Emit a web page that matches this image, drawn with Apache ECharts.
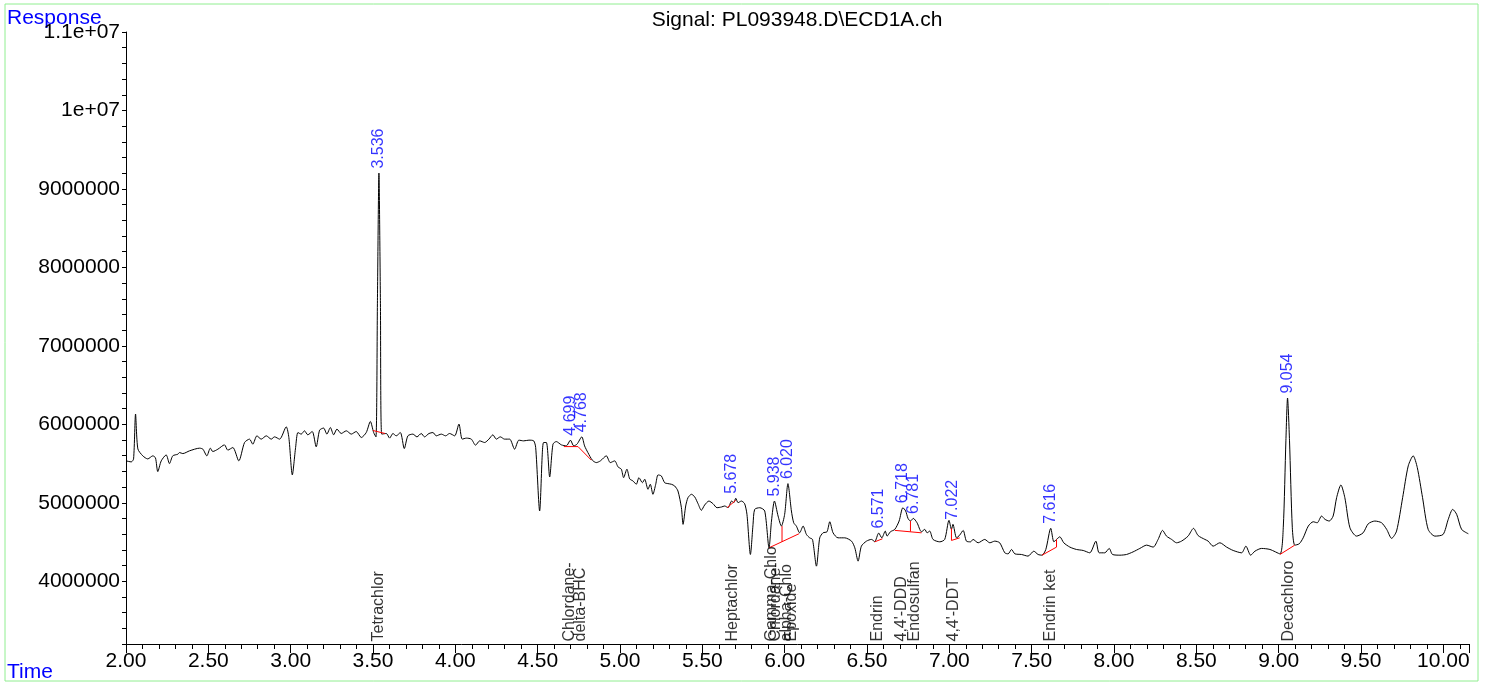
<!DOCTYPE html>
<html>
<head>
<meta charset="utf-8">
<script src="https://cdn.jsdelivr.net/npm/echarts@6/dist/echarts.min.js"></script>
<style>
html,body{margin:0;padding:0;background:#fff;}
#chart{width:1486px;height:683px;}
</style>
</head>
<body>
<div id="chart"></div>
<script>
// Retention time (min)
const rt = [
2.001,2.032,2.046,2.058,2.072,2.102,2.132,2.163,2.179,2.193,2.214,2.244,2.264,2.284,2.315,2.325,2.345,2.386,2.447,2.467,
2.491,2.512,2.527,2.558,2.598,2.618,2.649,2.685,2.720,2.750,2.770,2.795,2.821,2.852,2.882,2.902,2.933,2.973,2.989,3.010,
3.030,3.044,3.064,3.084,3.104,3.131,3.155,3.176,3.200,3.220,3.241,3.261,3.281,3.307,3.338,3.368,3.398,3.429,3.459,3.484,
3.504,3.518,3.527,3.536,3.545,3.553,3.581,3.601,3.621,3.641,3.666,3.690,3.712,3.742,3.767,3.793,3.813,3.840,3.864,3.884,
3.915,3.941,3.965,3.996,4.022,4.042,4.067,4.097,4.123,4.148,4.178,4.204,4.228,4.249,4.273,4.299,4.330,4.360,4.386,4.415,
4.447,4.476,4.488,4.512,4.528,4.536,4.553,4.573,4.593,4.613,4.644,4.674,4.699,4.719,4.739,4.768,4.785,4.805,4.832,4.856,
4.881,4.917,4.941,4.968,4.988,5.008,5.022,5.042,5.059,5.079,5.099,5.115,5.136,5.150,5.170,5.184,5.200,5.217,5.231,5.251,
5.271,5.291,5.312,5.332,5.352,5.373,5.383,5.399,5.413,5.434,5.454,5.474,5.494,5.514,5.540,5.565,5.589,5.616,5.636,5.656,
5.678,5.691,5.703,5.717,5.737,5.757,5.771,5.792,5.808,5.818,5.849,5.879,5.905,5.920,5.938,5.960,5.980,6.000,6.020,6.041,
6.055,6.071,6.091,6.112,6.132,6.152,6.169,6.193,6.213,6.233,6.257,6.274,6.294,6.324,6.365,6.406,6.426,6.446,6.466,6.497,
6.527,6.547,6.571,6.590,6.611,6.622,6.642,6.669,6.695,6.718,6.735,6.749,6.764,6.781,6.804,6.831,6.851,6.865,6.881,6.901,
6.942,6.972,6.998,7.013,7.022,7.044,7.063,7.084,7.104,7.129,7.144,7.175,7.215,7.246,7.276,7.306,7.337,7.357,7.378,7.398,
7.438,7.478,7.513,7.539,7.563,7.586,7.616,7.635,7.651,7.671,7.695,7.732,7.772,7.813,7.853,7.890,7.910,7.944,7.971,7.991,
8.036,8.076,8.116,8.157,8.198,8.238,8.268,8.295,8.319,8.350,8.380,8.410,8.450,8.483,8.511,8.552,8.572,8.602,8.643,8.684,
8.724,8.775,8.801,8.830,8.856,8.896,8.947,9.008,9.028,9.044,9.054,9.066,9.083,9.098,9.125,9.149,9.180,9.210,9.234,9.261,
9.281,9.307,9.331,9.352,9.378,9.402,9.433,9.473,9.513,9.544,9.584,9.625,9.656,9.686,9.716,9.753,9.787,9.817,9.842,9.874,
9.908,9.949,9.999,10.030,10.057,10.081,10.111,10.152
];
// Detector response
const resp = [
5534000,5521000,5559000,6131000,5687000,5598000,5559000,5598000,5572000,5397000,5534000,5610000,5499000,5598000,5619000,5640000,5627000,5662000,5696000,5683000,
5598000,5696000,5653000,5683000,5738000,5671000,5704000,5534000,5768000,5811000,5747000,5853000,5811000,5853000,5811000,5840000,5811000,5968000,5832000,5355000,
5704000,5895000,5875000,5917000,5866000,5908000,5713000,5926000,5952000,5875000,5959000,5866000,5939000,5883000,5917000,5875000,5908000,5832000,5895000,6036000,
5895000,5840000,7579000,9202000,7579000,5875000,5883000,5824000,5883000,5853000,5895000,5691000,5853000,5875000,5840000,5883000,5840000,5883000,5895000,5853000,
5875000,5853000,5883000,5853000,6003000,5811000,5824000,5811000,5734000,5789000,5768000,5811000,5866000,5811000,5840000,5811000,5811000,5683000,5798000,5789000,
5798000,5789000,5704000,4895000,5619000,5768000,5768000,5329000,5747000,5780000,5738000,5725000,5798000,5725000,5747000,5840000,5725000,5640000,5543000,5512000,
5534000,5598000,5512000,5534000,5457000,5428000,5320000,5428000,5304000,5278000,5236000,5320000,5256000,5300000,5172000,5236000,5108000,5236000,5355000,5342000,
5256000,5244000,5236000,5214000,5150000,4937000,4725000,4959000,5065000,5108000,5074000,4988000,4904000,4971000,5022000,4988000,4937000,4946000,4959000,4937000,
5022000,5001000,5057000,5001000,5022000,4988000,4853000,4341000,4725000,4916000,4937000,4895000,4426000,4767000,5022000,4831000,4703000,4853000,5244000,4895000,
4745000,4703000,4617000,4703000,4597000,4553000,4533000,4192000,4553000,4617000,4630000,4758000,4617000,4553000,4553000,4511000,4426000,4256000,4447000,4511000,
4533000,4505000,4614000,4553000,4639000,4575000,4630000,4661000,4767000,4937000,4895000,4801000,4767000,4801000,4745000,4630000,4661000,4617000,4639000,4533000,
4502000,4533000,4776000,4661000,4725000,4553000,4588000,4648000,4511000,4502000,4533000,4490000,4533000,4490000,4511000,4490000,4362000,4349000,4405000,4349000,
4341000,4320000,4383000,4341000,4332000,4405000,4674000,4502000,4533000,4566000,4490000,4435000,4405000,4392000,4362000,4511000,4362000,4362000,4418000,4341000,
4332000,4341000,4374000,4418000,4460000,4435000,4533000,4648000,4575000,4533000,4490000,4511000,4575000,4674000,4582000,4533000,4511000,4447000,4490000,4435000,
4392000,4362000,4447000,4332000,4383000,4418000,4405000,4349000,4681000,5789000,6335000,5789000,4681000,4460000,4477000,4553000,4703000,4758000,4745000,4831000,
4789000,4767000,4831000,5065000,5227000,5065000,4681000,4575000,4617000,4732000,4767000,4745000,4661000,4546000,4639000,5065000,5470000,5598000,5448000,5065000,
4661000,4575000,4597000,4789000,4916000,4853000,4661000,4605000
];
// Integrated peaks (apex retention time and response)
const peakTimes = [3.536,4.699,4.768,5.678,5.938,6.020,6.571,6.718,6.781,7.022,7.616,9.054];
const peakResp  = [9202000,5798000,5840000,5057000,5022000,5244000,4614000,4937000,4801000,4725000,4674000,6335000];
const peakLabels = ['3.536','4.699','4.768','5.678','5.938','6.020','6.571','6.718','6.781','7.022','7.616','9.054'];
// Compound names at expected retention times
const compoundTimes = [3.536,4.695,4.762,5.685,5.920,5.946,6.014,6.041,6.567,6.709,6.790,7.023,7.614,9.058];
const compoundNames = ['Tetrachlor','Chlordane-','delta-BHC','Heptachlor','Gamma-Chlo','Chlordane-','alpha-Chlo','Epoxide','Endrin',"4,4'-DDD",'Endosulfan',"4,4'-DDT",'Endrin ket','Decachloro'];
// Integration baselines and drop lines
const baselines = [
  [[3.500,5921000],[3.573,5883000]],
  [[4.659,5716000],[4.745,5716000],[4.826,5543000]],
  [[5.650,4937000],[5.703,5031000]],
  [[5.905,4426000],[6.087,4605000]],
  [[5.984,4502000],[5.984,4703000]],
  [[6.547,4502000],[6.594,4541000]],
  [[6.669,4648000],[6.831,4617000]],
  [[6.764,4633000],[6.764,4767000]],
  [[7.013,4520000],[7.063,4553000]],
  [[7.013,4520000],[7.013,4674000]],
  [[7.563,4332000],[7.651,4435000]],
  [[7.651,4435000],[7.651,4533000]],
  [[9.008,4341000],[9.098,4460000]]
];
const xMin = 2.0, xMax = 10.156, yMin = 3200000, yMax = 11000000;

const FONT = '"Liberation Sans", Arial, sans-serif';
const chart = echarts.init(document.getElementById('chart'), null, {renderer:'canvas'});

const series = [{
  type:'line',
  data: rt.map((t,i)=>[t,resp[i]]),
  showSymbol:false,
  smooth:0.25,
  lineStyle:{color:'#000',width:1},
  z:3,
  silent:true
}];
baselines.forEach(seg=>{
  series.push({type:'line',data:seg,showSymbol:false,lineStyle:{color:'#ff0000',width:1},z:4,silent:true});
});
series.push({
  type:'scatter',
  data: peakTimes.map((t,i)=>({value:[t,peakResp[i]], name:peakLabels[i]})),
  symbolSize:1,
  itemStyle:{color:'rgba(0,0,0,0)'},
  label:{show:true,formatter:p=>p.name,position:'top',distance:4,rotate:90,align:'left',verticalAlign:'middle',
         color:'#0000ff',fontSize:16,fontFamily:FONT},
  z:5,silent:true
});
series.push({
  type:'scatter',
  data: compoundTimes.map((t,i)=>({value:[t,yMin], name:compoundNames[i]})),
  symbolSize:1,
  itemStyle:{color:'rgba(0,0,0,0)'},
  label:{show:true,formatter:p=>p.name,position:'top',distance:2,rotate:90,align:'left',verticalAlign:'middle',
         color:'#000',fontSize:16,fontFamily:FONT},
  z:5,silent:true
});

chart.setOption({
  animation:false,
  backgroundColor:'#fff',
  grid:{left:126,right:17,top:32,bottom:39,containLabel:false},
  xAxis:{
    type:'value',min:xMin,max:xMax,interval:0.5,
    axisLine:{show:true,lineStyle:{color:'#000',width:1}},
    axisTick:{show:true,length:9,lineStyle:{color:'#000'}},
    minorTick:{show:true,splitNumber:5,length:5,lineStyle:{color:'#000'}},
    splitLine:{show:false},
    axisLabel:{color:'#000',fontSize:21,fontFamily:FONT,margin:7,formatter:v=>v.toFixed(2),showMaxLabel:false}
  },
  yAxis:{
    type:'value',min:yMin,max:yMax,interval:200000,
    axisLine:{show:true,lineStyle:{color:'#000',width:1}},
    axisTick:{show:true,length:4,interval:0,lineStyle:{color:'#000'}},
    splitLine:{show:false},
    axisLabel:{color:'#000',fontSize:21,fontFamily:FONT,margin:6,interval:0,
      formatter:v=>{
        const r=Math.round(v);
        if(r%1000000!==0) return '';
        if(r===11000000) return '1.1e+07';
        if(r===10000000) return '1e+07';
        return String(r);
      }}
  },
  graphic:[
    {type:'rect',shape:{x:5,y:4,width:1473,height:677},style:{fill:'none',stroke:'#90ee90',lineWidth:1},silent:true},
    {type:'text',x:797,y:20,style:{text:'Signal: PL093948.D\\ECD1A.ch',font:'21px '+FONT,fill:'#000',textAlign:'center',textVerticalAlign:'middle'}},
    {type:'text',x:7,y:18,style:{text:'Response',font:'21px '+FONT,fill:'#0000ff',textAlign:'left',textVerticalAlign:'middle'}},
    {type:'text',x:7,y:672,style:{text:'Time',font:'21px '+FONT,fill:'#0000ff',textAlign:'left',textVerticalAlign:'middle'}}
  ],
  series:series
});
</script>
</body>
</html>
